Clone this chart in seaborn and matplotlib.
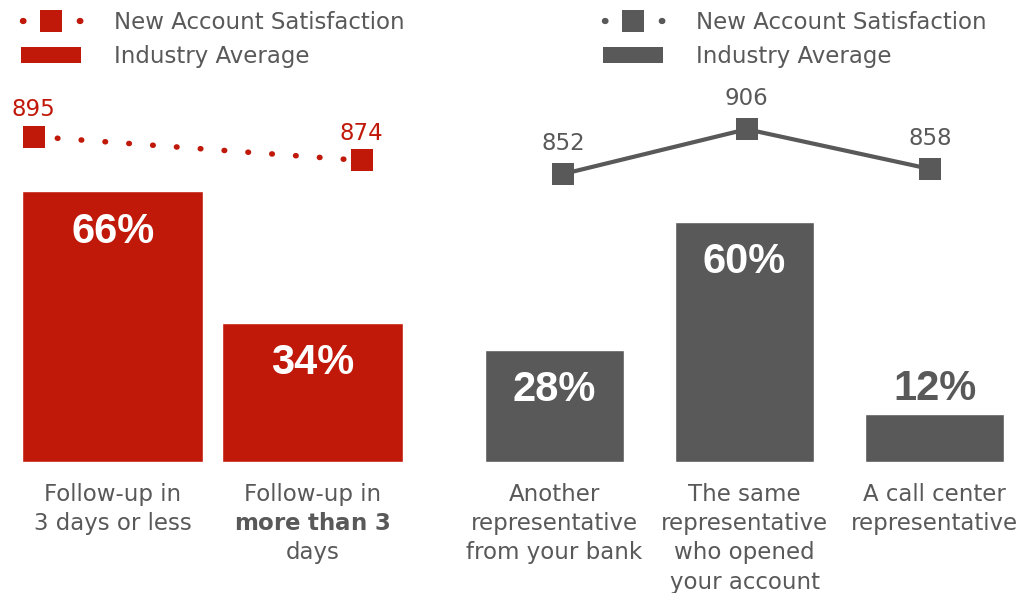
import matplotlib
matplotlib.use('Agg')
import matplotlib.pyplot as plt
import seaborn as sns
import pandas as pd
from matplotlib.lines import Line2D
from matplotlib.patches import Patch

# data
followup_cats = ['Follow-up in\n3 days or less',
                 'Follow-up in\n$\\mathbf{more\\ than\\ 3}$\ndays']
followup_share = [66, 34]
followup_sat = [895, 874]

rep_cats = ['Another\nrepresentative\nfrom your bank',
            'The same\nrepresentative\nwho opened\nyour account',
            'A call center\nrepresentative']
rep_share = [28, 60, 12]
rep_sat = [852, 906, 858]

legend_labels = ['New Account Satisfaction', 'Industry Average']

RED = '#C0190A'
GRAY = '#595959'
TEXT = '#595959'

sns.set_theme(style='white')
plt.rcParams['font.family'] = ['DejaVu Sans']
plt.rcParams['mathtext.fontset'] = 'dejavusans'

W, H = 1032, 593
fig = plt.figure(figsize=(W / 100, H / 100), dpi=100)


def px(left, top, width, height):
    # rect from pixel coords measured from the top-left corner
    return [left / W, (H - top - height) / H, width / W, height / H]


dotted = dict(lw=4, linestyle=(0, (0.1, 4.2)), dash_capstyle='round')
legend_dots = dict(lw=4.5, linestyle=(8.8, (0.1, 9.0)), dash_capstyle='round')
solid = dict(lw=3)


def draw_panel(cats, share, sat, color, bar_rect, bar_width,
               line_rect, line_xlim, line_ylim, line_kw, lab_off, legend_x):
    ax = fig.add_axes(bar_rect)
    df = pd.DataFrame({'cat': cats, 'share': share})
    sns.barplot(data=df, x='cat', y='share', color=color, width=bar_width,
                saturation=1, ax=ax)
    ax.set_xlim(-0.5, len(cats) - 0.5)
    ax.set_ylim(0, 100)
    ax.set_xlabel('')
    ax.set_ylabel('')
    ax.set_yticks([])
    for s in ax.spines.values():
        s.set_visible(False)
    ax.patch.set_visible(False)
    ax.tick_params(axis='x', length=0, pad=15, labelsize=16.5, labelcolor=TEXT)
    for t in ax.get_xticklabels():
        t.set_linespacing(1.35)

    for i, v in enumerate(share):
        if v >= 20:
            ax.annotate(f'{v}%', (i, v), xytext=(0, -29), textcoords='offset points',
                        ha='center', va='center', color='white', fontsize=30,
                        fontweight='bold', family='Liberation Sans')
        else:
            ax.annotate(f'{v}%', (i, v), xytext=(0, 18), textcoords='offset points',
                        ha='center', va='center', color=color, fontsize=30,
                        fontweight='bold', family='Liberation Sans')

    lx = fig.add_axes(line_rect)
    sns.lineplot(x=list(range(len(sat))), y=sat, ax=lx, color=color, marker='s',
                 markersize=16.5, mew=0, clip_on=False, **line_kw)
    lx.set_xlim(*line_xlim)
    lx.set_ylim(*line_ylim)
    lx.axis('off')
    for i, v in enumerate(sat):
        lx.annotate(str(v), (i, v), xytext=(0, lab_off), textcoords='offset points',
                    ha='center', va='bottom', color=color, fontsize=16.5,
                    annotation_clip=False)

    handles = [Line2D([], [], color=color, marker='s', markersize=16.5, mew=0,
                      **legend_dots),
               Patch(facecolor=color, edgecolor='none')]
    fig.legend(handles, legend_labels, loc='upper left',
               bbox_to_anchor=(legend_x / W, 1 - 11 / H), frameon=False,
               borderpad=0, borderaxespad=0, fontsize=16.5, labelcolor=TEXT,
               handlelength=2.6, handleheight=0.7, handletextpad=1.45,
               labelspacing=0.5)


# left panel: follow-up timing
draw_panel(followup_cats, followup_share, followup_sat, RED,
           px(12.75, 52, 399.5, 410), 0.905,
           px(0.7, 52, 393.6, 410), (-0.1, 1.1), (610, 969),
           dotted, 11.5, 21)

# right panel: who followed up
draw_panel(rep_cats, rep_share, rep_sat, GRAY,
           px(459.5, 62, 570, 400), 0.73,
           px(471.1, 62, 551.25, 400), (-0.5, 2.5), (505, 987),
           solid, 14, 603)

fig.savefig('out.png', dpi=100)
